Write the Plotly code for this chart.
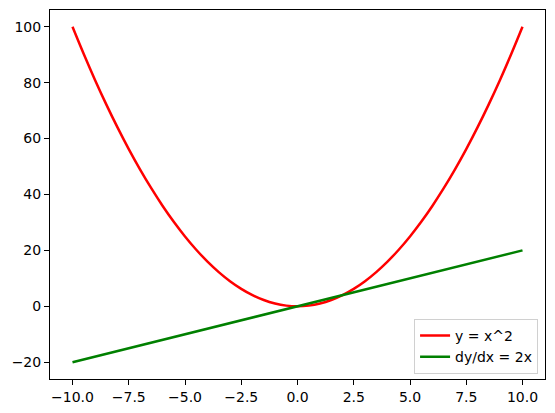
import plotly.graph_objects as go

# x positions of the sampled points
x_vals = [-10.0, -9.5, -9.0, -8.5, -8.0, -7.5, -7.0, -6.5, -6.0, -5.5, -5.0,
          -4.5, -4.0, -3.5, -3.0, -2.5, -2.0, -1.5, -1.0, -0.5, 0.0,
          0.5, 1.0, 1.5, 2.0, 2.5, 3.0, 3.5, 4.0, 4.5, 5.0,
          5.5, 6.0, 6.5, 7.0, 7.5, 8.0, 8.5, 9.0, 9.5, 10.0]
# y = x^2
y_square = [100.0, 90.25, 81.0, 72.25, 64.0, 56.25, 49.0, 42.25, 36.0, 30.25, 25.0,
            20.25, 16.0, 12.25, 9.0, 6.25, 4.0, 2.25, 1.0, 0.25, 0.0,
            0.25, 1.0, 2.25, 4.0, 6.25, 9.0, 12.25, 16.0, 20.25, 25.0,
            30.25, 36.0, 42.25, 49.0, 56.25, 64.0, 72.25, 81.0, 90.25, 100.0]
# dy/dx = 2x
y_deriv = [-20, -19, -18, -17, -16, -15, -14, -13, -12, -11, -10,
           -9, -8, -7, -6, -5, -4, -3, -2, -1, 0,
           1, 2, 3, 4, 5, 6, 7, 8, 9, 10,
           11, 12, 13, 14, 15, 16, 17, 18, 19, 20]

x_ticks = [-10.0, -7.5, -5.0, -2.5, 0.0, 2.5, 5.0, 7.5, 10.0]
y_ticks = [-20, 0, 20, 40, 60, 80, 100]
series_names = ["y = x^2", "dy/dx = 2x"]

FONT = dict(family="DejaVu Sans", size=14, color="black")

fig = go.Figure()
fig.add_trace(go.Scatter(x=x_vals, y=y_square, mode="lines", name=series_names[0],
                         line=dict(color="#ff0000", width=2.5, shape="spline")))
fig.add_trace(go.Scatter(x=x_vals, y=y_deriv, mode="lines", name=series_names[1],
                         line=dict(color="#008000", width=2.5)))

axis_common = dict(showgrid=False, zeroline=False, showline=True, mirror=True,
                   linecolor="black", linewidth=1, ticks="outside", ticklen=5,
                   tickwidth=1, tickcolor="black", tickfont=FONT)

# page body has an 8px margin, so the figure starts at (8, 8)
fig.update_layout(
    width=547, height=405,
    margin=dict(l=42, r=10, t=2, b=34, autoexpand=False),
    paper_bgcolor="white", plot_bgcolor="white",
    font=FONT,
    xaxis=dict(range=[-11, 11], tickvals=x_ticks, tickformat=".1f", **axis_common),
    yaxis=dict(range=[-26, 106], tickvals=y_ticks, **axis_common),
    legend=dict(x=0.986, y=0.014, xanchor="right", yanchor="bottom",
                bgcolor="white", bordercolor="#d0d0d0", borderwidth=1,
                itemwidth=30, tracegroupgap=0, font=FONT),
    showlegend=True,
)

fig.write_html("out.html")
